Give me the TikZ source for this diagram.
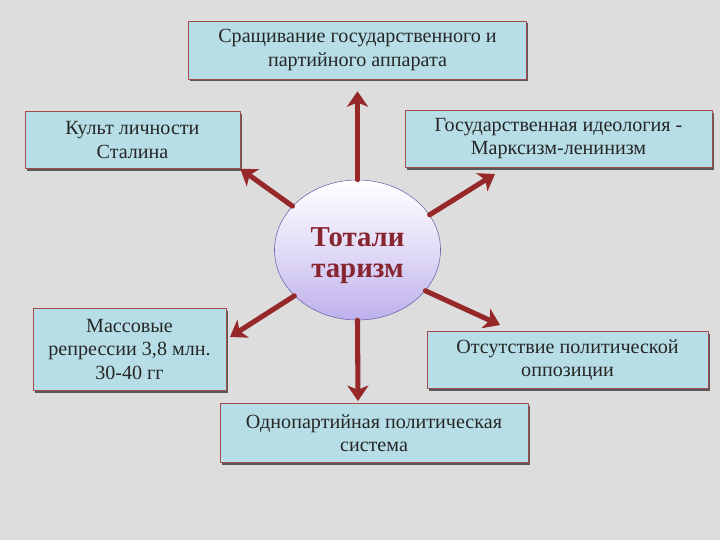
\documentclass[tikz,border=0pt]{standalone}
\usepackage{fontspec}
\setmainfont{Liberation Serif}
\usetikzlibrary{shapes.geometric,arrows.meta,shadows}
\definecolor{fon}{RGB}{221,221,221}
\definecolor{kletka}{RGB}{183,222,230}
\definecolor{ramka}{RGB}{165,75,80}
\definecolor{strelka}{RGB}{150,40,42}
\definecolor{sirenevyj}{RGB}{190,176,236}
\definecolor{bukvy}{RGB}{135,38,48}
\begin{document}
\begin{tikzpicture}[x=0.025cm, y=-0.025cm, font=\fontsize{14.3}{16.4}\selectfont, line cap=round, line join=round,
  box/.style={draw=ramka, fill=kletka, align=center, inner sep=2pt, text=black!85,
    drop shadow={shadow xshift=1.2pt, shadow yshift=-1.5pt, fill=black!65, opacity=1}},
  arr/.style={-{Stealth[length=11pt, width=15pt, inset=3pt]}, line width=3.6pt, draw=strelka}]
  \fill[fon] (0,0) rectangle (720,540);
  \useasboundingbox (0,0) rectangle (720,540);

  % центр
  \node[ellipse, draw=black!55!blue!60, thin, minimum width=4.15cm, minimum height=3.5cm, inner sep=0pt,
    top color=white, bottom color=sirenevyj, middle color=sirenevyj!45,
    label={[text=bukvy, align=center, yshift=-0.15cm, font=\fontsize{20.5}{22}\selectfont\bfseries]center:Тотали\\таризм}] (tot) at (357.5,250) {};

  % блоки
  \node[box, minimum width=8.45cm, minimum height=1.45cm] (sraschivanie) at (357.5,50) {Сращивание государственного и\\партийного аппарата};
  \node[box, minimum width=5.375cm, minimum height=1.425cm] (kult) at (132.5,140) {Культ личности\\Сталина};
  \node[box, minimum width=7.675cm, minimum height=1.425cm] (ideologija) at (558.5,139) {Государственная идеология -\\Марксизм-ленинизм};
  \node[box, minimum width=4.825cm, minimum height=2.05cm] (repressii) at (129.5,349.5) {Массовые\\репрессии 3,8 млн.\\30-40 гг};
  \node[box, minimum width=7.025cm, minimum height=1.425cm] (oppozicija) at (567.5,360) {Отсутствие политической\\оппозиции};
  \node[box, minimum width=7.7cm, minimum height=1.475cm] (sistema) at (374,433) {Однопартийная политическая\\система};

  % концы стрелок
  \coordinate (k1) at (495,174);
  \coordinate (k2) at (500,325);
  \coordinate (k3) at (230,337);
  \coordinate (k4) at (358,401);

  \draw[arr, shorten >=0.3cm] (tot.north) -- (sraschivanie.south);
  \draw[arr] (tot.146) -- (kult.south east);
  \draw[arr] (tot.26) -- (k1);
  \draw[arr] (tot.-31) -- (k2);
  \draw[arr] (tot.216) -- (k3);
  \draw[arr] (tot.south) -- (k4);
\end{tikzpicture}
\end{document}
